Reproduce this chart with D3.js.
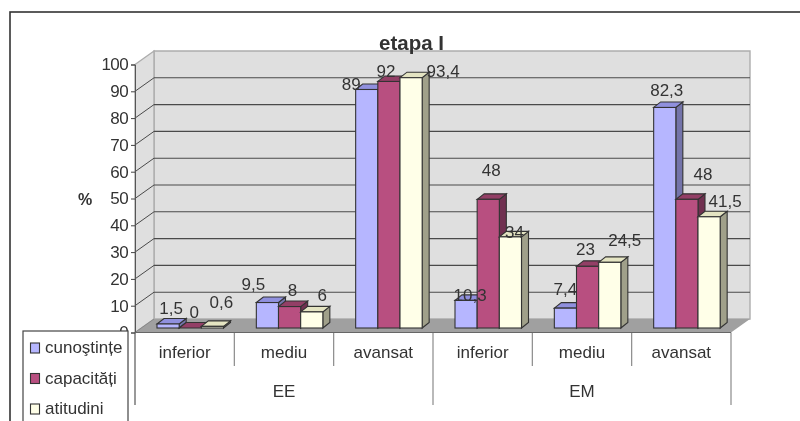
<!DOCTYPE html>
<html><head><meta charset="utf-8">
<script src="https://cdn.jsdelivr.net/npm/d3@7/dist/d3.min.js"></script>
<style>html,body{margin:0;padding:0;background:#fff}svg{display:block;filter:blur(0.35px)}text{font-family:"Liberation Sans",Arial,sans-serif;fill:#333}</style>
</head><body><svg id="c" width="800" height="421"></svg>
<script>
const title = "etapa I";
const yLabel = "%";
const groups = ["EE", "EM"];
const categories = ["inferior", "mediu", "avansat", "inferior", "mediu", "avansat"];
const seriesNames = ["cunoştințe", "capacități", "atitudini"];
const cunostinte = [1.5, 9.5, 89, 10.3, 7.4, 82.3];
const capacitati = [0, 8, 92, 48, 23, 48];
const atitudini = [0.6, 6, 93.4, 34, 24.5, 41.5];
const series = [cunostinte, capacitati, atitudini];
const yTicks = d3.range(0, 101, 10);

const faces = [
  {front: "#b6b6ff", top: "#9090de", side: "#7474aa"},
  {front: "#b84f80", top: "#933f66", side: "#703050"},
  {front: "#ffffe8", top: "#e4e4c2", side: "#a0a08a"}
];
// manually dragged data labels in the original: [dx, dy] from the bar's top centre to the label baseline
const labelNudge = [
  [[3,-10],[-14,-12.5],[-15.5,0.5],[4,0.5],[0,-13],[2,-11]],
  [[4,-10],[3,-10.6],[-3,-4],[3,-23],[-2,-11],[16,-19]],
  [[9,-18],[10.5,-11],[32,-1],[4,1],[15,-16],[16,-10]]
];

const svg = d3.select("#c");
const dx = 19, dy = -13.5;      // wall depth
const bdx = 7, bdy = -5.5;      // bar depth
const x0 = d3.scaleBand().domain(d3.range(6)).range([135, 731]);
const x1 = d3.scaleBand().domain(d3.range(3)).range([22, 88.5]);
const yAxisScale = d3.scaleLinear().domain([0, 100]).range([332.5, 64.5]);
const yBar = d3.scaleLinear().domain([0, 100]).range([328, 60]);

// chart frame
svg.append("rect").attr("x", 10).attr("y", 12).attr("width", 800).attr("height", 430)
  .attr("fill", "#fff").attr("stroke", "#333").attr("stroke-width", 1.6);

const L = x0.range()[0], R = x0.range()[1];
const poly = (pts, fill, stroke, sw) => svg.append("polygon")
  .attr("points", pts.map(p => p.join(",")).join(" "))
  .attr("fill", fill).attr("stroke", stroke || "none").attr("stroke-width", sw || 0);

const y0 = yAxisScale(0), yT = yAxisScale(100);
// walls and floor
poly([[L+dx, yT+dy], [R+dx, yT+dy], [R+dx, y0+dy], [L+dx, y0+dy]], "#dfdfdf", "#adadad", 1.4);
poly([[L, yT], [L+dx, yT+dy], [L+dx, y0+dy], [L, y0]], "#dfdfdf", "#adadad", 1.4);
poly([[L, y0], [L+dx, y0+dy], [R+dx, y0+dy], [R, y0]], "#a0a0a0");

// gridlines
yTicks.slice(1, -1).forEach(t => {
  const y = yAxisScale(t);
  const c = "#4a4a4a";
  svg.append("line").attr("x1", L+dx).attr("x2", R+dx).attr("y1", y+dy).attr("y2", y+dy)
    .attr("stroke", c).attr("stroke-width", 1.1);
  svg.append("line").attr("x1", L).attr("x2", L+dx).attr("y1", y).attr("y2", y+dy)
    .attr("stroke", c).attr("stroke-width", 1);
});
svg.append("line").attr("x1", L).attr("x2", L+dx).attr("y1", y0).attr("y2", y0+dy)
  .attr("stroke", "#888").attr("stroke-width", 1);

// y axis
const yAxis = d3.axisLeft(yAxisScale).tickValues(yTicks).tickSize(4).tickPadding(3);
const gy = svg.append("g").attr("transform", `translate(${L},0)`).call(yAxis);
gy.select(".domain").attr("stroke", "#555").attr("stroke-width", 1);
gy.selectAll(".tick line").attr("stroke", "#444");
gy.selectAll("text").attr("font-size", 17).style("letter-spacing", "-0.6px")
  .attr("fill", "#333");

// bars
const ink = "#333";
categories.forEach((_, c) => {
  series.forEach((vals, s) => {
    const v = vals[c];
    const xa = x0(c) + x1(s), w = x1.bandwidth(), yt = yBar(v), yb = yBar(0);
    poly([[xa+w, yt], [xa+w+bdx, yt+bdy], [xa+w+bdx, yb+bdy], [xa+w, yb]], faces[s].side, ink, 1.1);
    poly([[xa, yt], [xa+bdx, yt+bdy], [xa+w+bdx, yt+bdy], [xa+w, yt]], faces[s].top, ink, 1.1);
    svg.append("rect").attr("x", xa).attr("y", yt).attr("width", w).attr("height", yb-yt)
      .attr("fill", faces[s].front).attr("stroke", ink).attr("stroke-width", 1.1);
  });
});

// value labels
const fmt = v => String(v).replace(".", ",");
categories.forEach((_, c) => {
  series.forEach((vals, s) => {
    const v = vals[c];
    svg.append("text")
      .attr("x", x0(c) + x1(s) + x1.bandwidth()/2 + labelNudge[s][c][0])
      .attr("y", yBar(v) + labelNudge[s][c][1])
      .attr("text-anchor", "middle").attr("font-size", 17).text(fmt(v));
  });
});

// category axis
const sep = "#8a8a8a";
d3.range(7).forEach(i => {
  const x = i < 6 ? x0(i) : R;
  const long = i === 0 || i === 3 || i === 6;
  svg.append("line").attr("x1", x).attr("x2", x).attr("y1", y0).attr("y2", long ? 405 : 366)
    .attr("stroke", i === 0 ? "#555" : sep).attr("stroke-width", 1.2);
});
svg.append("line").attr("x1", L).attr("x2", R).attr("y1", y0).attr("y2", y0).attr("stroke", "#666").attr("stroke-width", 1);
categories.forEach((c, i) => {
  svg.append("text").attr("x", x0(i) + x0.bandwidth()/2).attr("y", 358)
    .attr("text-anchor", "middle").attr("font-size", 17).text(c);
});
groups.forEach((g, i) => {
  svg.append("text").attr("x", x0(i*3) + x0.bandwidth()*1.5).attr("y", 397)
    .attr("text-anchor", "middle").attr("font-size", 17).text(g);
});

// title and axis title
svg.append("text").attr("x", 411.5).attr("y", 50).attr("text-anchor", "middle")
  .attr("font-size", 20.5).attr("font-weight", "bold").text(title);
svg.append("text").attr("x", 85).attr("y", 205).attr("text-anchor", "middle")
  .attr("font-size", 16).attr("font-weight", "bold").text(yLabel);

// legend
svg.append("rect").attr("x", 23).attr("y", 331).attr("width", 105).attr("height", 110)
  .attr("fill", "#fff").attr("stroke", "#444").attr("stroke-width", 1.2);
seriesNames.forEach((n, i) => {
  const y = 348 + i * 30.5;
  svg.append("rect").attr("x", 30.5).attr("y", y-5).attr("width", 9).attr("height", 10)
    .attr("fill", faces[i].front).attr("stroke", ink).attr("stroke-width", 1.1);
  svg.append("text").attr("x", 45).attr("y", y+5).attr("font-size", 17).text(n);
});
</script></body></html>
